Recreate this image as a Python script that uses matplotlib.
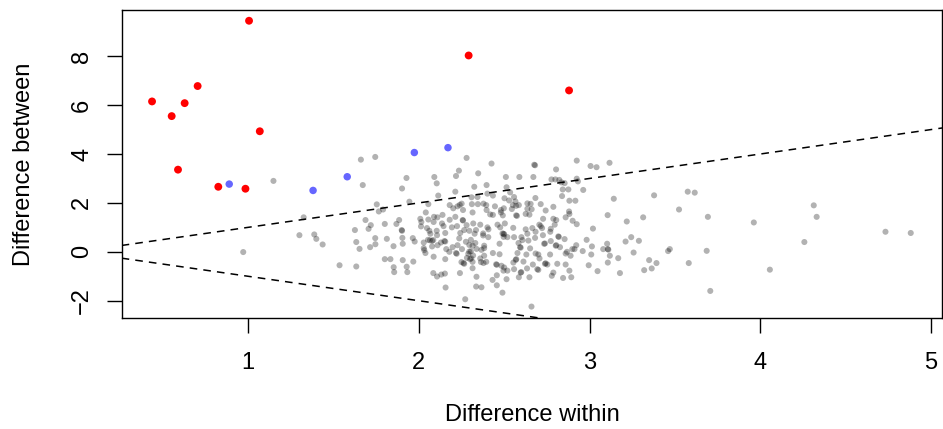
import matplotlib.pyplot as plt

plt.rcParams['font.family'] = ['Liberation Sans', 'DejaVu Sans']

# features that are not significant (grey cloud)
within_ns = [
    1.149, 0.972, 1.326, 1.301, 1.388, 1.400, 1.437,
    1.661, 1.745, 1.672, 1.928, 1.902, 1.945, 1.754, 1.766, 1.791, 1.688, 1.719, 1.706, 1.626, 1.801,
    1.869, 1.885, 1.900, 2.009, 2.015, 2.056, 2.089, 2.109, 2.087, 2.136, 2.145, 2.048, 2.105, 2.062,
    2.013, 2.091, 2.105, 2.114, 2.056, 2.280, 2.235, 2.218, 2.325, 2.348, 2.214, 2.181, 2.202, 2.227,
    2.251, 2.259, 2.311, 2.309, 2.344, 2.346, 2.214, 2.257, 2.224, 2.266, 2.319, 2.335, 2.296, 2.181,
    2.426, 2.681, 2.676, 2.510, 2.589, 2.671, 2.804, 2.925, 3.006, 3.041, 3.117, 2.397, 2.514, 2.777,
    2.800, 2.823, 2.835, 2.854, 2.925, 2.932, 2.843, 2.876, 2.963, 2.839, 2.882, 2.917, 3.142, 2.402,
    2.434, 2.535, 2.502, 2.529, 2.558, 2.566, 2.379, 2.395, 2.446, 2.498, 2.551, 2.586, 2.636, 2.683,
    2.714, 2.788, 2.636, 2.481, 2.545, 2.570, 2.575, 2.418, 2.492, 2.648, 2.728, 2.788, 2.880, 2.882,
    2.860, 2.901, 2.925, 3.106, 3.020, 2.360, 2.402, 2.461, 2.477, 2.504, 2.553, 2.665, 2.706, 2.722,
    2.773, 2.796,
    1.634, 1.653, 1.715, 1.746, 1.745, 1.813, 1.852, 1.906, 1.904, 1.965, 1.976, 1.536, 1.634, 1.801,
    1.834, 1.853, 1.856, 1.906, 1.929, 1.933, 1.968, 2.029, 2.039, 2.029, 2.054, 2.068, 2.085, 2.078,
    2.087, 2.107, 2.130, 2.150, 2.155, 2.155, 2.161, 2.179, 2.155, 2.085, 2.107, 2.132, 2.153, 2.157,
    2.218, 2.222, 2.198, 2.227, 2.237, 2.243, 2.253, 2.276, 2.296, 2.262, 2.266, 2.282, 2.307, 2.315,
    2.305, 2.315, 2.331, 2.338, 2.327, 2.241, 2.315, 2.338, 2.336, 2.272,
    2.377, 2.407, 2.367, 2.383, 2.364, 2.379, 2.367, 2.432, 2.457, 2.457, 2.490, 2.514, 2.496, 2.519,
    2.453, 2.457, 2.484, 2.434, 2.473, 2.473, 2.383, 2.496, 2.500, 2.519, 2.558, 2.601, 2.584, 2.593,
    2.597, 2.578, 2.568, 2.571, 2.554, 2.613, 2.558, 2.597, 2.600, 2.586, 2.648, 2.668, 2.694, 2.630,
    2.652, 2.642, 2.636, 2.681, 2.700, 2.734, 2.739, 2.743, 2.753, 2.769, 2.773, 2.802, 2.805, 2.827,
    2.817, 2.854, 2.788, 2.779, 2.811, 2.860, 2.845, 2.893, 2.882, 2.868, 2.889, 2.899, 2.922, 2.960,
    2.983, 3.014, 3.010, 2.995, 3.047, 3.080, 3.107, 3.110, 3.103, 3.119, 3.107, 3.168, 3.178, 2.660,
    3.218, 3.314, 3.378, 3.211, 3.244, 3.289, 3.258, 3.349, 3.392, 3.364, 3.320, 3.460, 3.470, 3.524,
    3.575, 3.616, 3.693, 3.686, 3.581, 3.707, 3.962, 4.056, 4.258, 4.313, 4.330, 4.733, 4.881,
    # denser core, read from a closer look
    1.902, 2.065, 2.078, 2.259, 2.296, 2.305, 2.290, 2.318, 2.300, 2.250, 2.490, 2.497, 2.714, 2.770,
    2.041, 2.139, 2.315, 2.397, 2.434, 2.481, 2.626, 2.661, 2.743, 2.194, 2.280, 2.377, 2.408, 2.626,
    2.684, 2.727, 2.805, 2.032, 2.110, 2.383, 2.607, 2.684, 2.739, 2.820, 2.860, 2.912, 2.360, 2.395,
    2.500, 2.634, 2.707, 2.700, 2.240, 2.570, 2.655,
]
between_ns = [
    2.90, -0.01, 1.41, 0.68, 0.71, 0.53, 0.30,
    3.77, 3.88, 2.73, 3.02, 2.59, 2.05, 1.94, 1.65, 1.73, 1.30, 1.09, 0.94, 0.89, 1.14,
    1.14, 1.30, 0.89, 1.35, 1.22, 1.32, 1.43, 1.41, 1.22, 1.16, 1.05, 0.97, 0.86, 0.86,
    1.04, 3.06, 2.80, 2.30, 1.95, 3.84, 3.32, 3.10, 2.66, 3.21, 2.46, 1.91, 1.78, 1.86,
    1.97, 1.71, 1.95, 2.23, 2.24, 1.95, 1.43, 1.30, 1.05, 0.89, 1.16, 0.89, 0.86, 1.31,
    3.61, 3.54, 3.56, 3.06, 3.06, 3.06, 3.37, 3.73, 3.51, 3.46, 3.64, 2.73, 2.64, 2.96,
    2.96, 2.94, 2.84, 2.81, 2.99, 2.88, 2.55, 2.55, 2.53, 2.28, 2.09, 2.09, 2.17, 2.38,
    2.30, 2.43, 2.19, 2.10, 2.24, 2.06, 1.97, 1.91, 1.86, 1.78, 1.91, 1.91, 1.98, 2.20,
    1.95, 1.84, 1.76, 1.71, 1.75, 1.49, 1.47, 1.53, 1.49, 1.52, 1.35, 1.35, 1.65, 1.55,
    1.41, 1.27, 1.13, 1.50, 0.95, 1.11, 1.00, 1.11, 1.00, 1.16, 0.98, 0.97, 1.11, 0.97,
    0.94, 1.11,
    0.40, 0.12, 0.19, 0.31, 0.56, 0.53, 0.23, 0.33, 0.57, 0.56, 0.42, -0.55, -0.60, -0.30,
    -0.30, -0.63, -0.83, -0.34, -0.61, -0.83, -0.40, 0.38, -0.05, 0.15, 0.49, 0.74, 0.48, 0.22,
    -0.20, 0.68, 0.38, 0.44, 0.42, 0.77, 0.11, 0.00, -0.30, -0.87, -1.01, -0.93, -0.89, -1.46,
    -0.05, -0.08, 0.19, 0.27, 0.55, 0.77, 0.11, 0.41, 0.01, -0.46, -0.49, -0.25, -0.27, -0.41,
    0.49, 0.25, 0.36, 0.12, 0.74, -0.87, -0.67, -1.02, -1.42, -1.94,
    0.67, 0.60, 0.08, -0.16, -0.42, -0.46, -1.45, -1.15, -0.96, -1.37, -1.67, -1.12, -0.77, -0.77,
    -0.51, -0.53, -0.57, -0.05, -0.10, 0.33, 0.25, 0.74, 0.72, 0.60, 0.60, 0.60, 0.36, 0.19,
    0.17, -0.05, -0.33, -0.30, -0.44, -0.40, -0.71, -0.85, -0.83, -1.04, -1.04, -0.52, -0.71, -0.11,
    0.14, 0.46, 0.74, 0.57, -0.11, 0.33, -0.49, -0.47, -0.52, -0.11, 0.44, 0.25, 0.27, 0.19,
    0.63, 0.52, -0.85, -0.98, -0.49, -0.52, -1.07, -1.04, -0.77, 0.00, -0.16, 0.11, 0.27, 0.03,
    0.49, 0.22, -0.11, -0.55, -0.79, 0.11, 0.11, 0.09, 0.33, -0.16, -0.44, -0.26, -0.87, -2.24,
    1.24, 1.41, 2.31, 0.42, 0.60, 0.45, -0.03, -0.34, -0.46, -0.68, -0.75, 0.03, 0.11, 1.73,
    2.46, 2.42, 1.43, 0.04, -0.46, -1.60, 1.20, -0.73, 0.40, 1.90, 1.43, 0.82, 0.77,
    0.86, 0.47, 0.45, 1.28, 0.28, 0.02, -0.08, -0.15, -0.30, -0.42, 0.75, 0.61, 1.05, 0.82,
    1.61, 1.51, 1.61, 1.71, 1.51, 1.61, 1.55, 1.74, 1.69, 1.00, 1.09, 0.75, 0.92, 0.92,
    0.82, 0.68, 1.30, 0.07, 0.27, 0.15, 0.48, -0.07, 0.34, 0.61, -0.07, 0.11, -0.27, -0.41,
    -0.64, -0.68, -0.27, -0.74, 1.92, 1.88, 1.96,
]

# significant features
within_sig = [0.438, 0.553, 0.629, 0.705, 1.006, 1.069, 0.590, 0.826, 0.985, 2.292, 2.880]
between_sig = [6.15, 5.55, 6.08, 6.78, 9.45, 4.93, 3.36, 2.66, 2.58, 8.03, 6.60]

# borderline features
within_mid = [0.890, 1.381, 1.581, 1.974, 2.171]
between_mid = [2.77, 2.51, 3.07, 4.06, 4.26]

fig = plt.figure(figsize=(9.43, 4.29), dpi=100)
ax = fig.add_axes([0.129, 0.258, 0.8703, 0.7187])

ax.scatter(within_ns, between_ns, s=19, color='black', alpha=0.3, edgecolors='none')
ax.scatter(within_sig, between_sig, s=32, color='red', edgecolors='none')
ax.scatter(within_mid, between_mid, s=29, color='blue', alpha=0.6, edgecolors='none')

ax.axline((0, 0), slope=1, color='black', lw=1.1, linestyle=(0, (5, 4)))
ax.axline((0, 0), slope=-1, color='black', lw=1.1, linestyle=(0, (5, 4)))

ax.set_xlim(0.26, 5.066)
ax.set_ylim(-2.72, 9.89)
ax.set_xticks([1, 2, 3, 4, 5])
ax.set_yticks([-2, 0, 2, 4, 6, 8])
ax.set_yticklabels(['\u22122', '0', '2', '4', '6', '8'])

ax.tick_params(axis='x', length=10.5, width=1, labelsize=17, pad=14)
ax.tick_params(axis='y', length=10.5, width=1, labelsize=17, pad=10)
for lab in ax.get_yticklabels():
    lab.set_rotation(90)
    lab.set_va('center')

for sp in ax.spines.values():
    sp.set_linewidth(1)

ax.set_xlabel('Difference within', fontsize=17, labelpad=21)
ax.set_ylabel('Difference between', fontsize=17, labelpad=26)

fig.savefig('out.png', dpi=100)
